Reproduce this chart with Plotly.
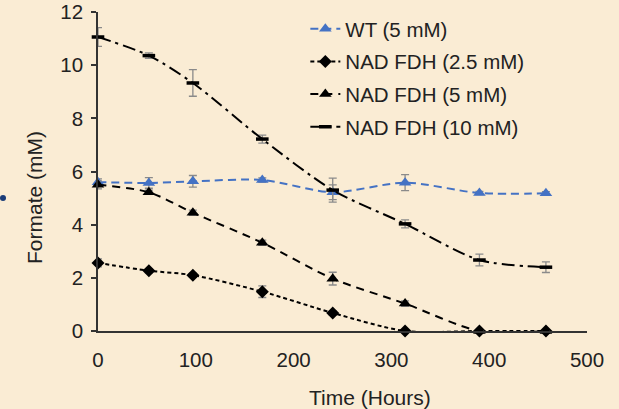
import plotly.graph_objects as go

# Sampling times (hours)
hours = [0, 52, 97, 168, 240, 314, 390, 458]

# Formate concentration (mM) and standard deviations
wt_5 = [5.60, 5.57, 5.63, 5.68, 5.22, 5.58, 5.19, 5.18]
wt_5_err = [0.12, 0.20, 0.22, 0.08, 0.28, 0.30, 0.06, 0.06]

fdh_2_5 = [2.56, 2.27, 2.10, 1.48, 0.68, 0.0, 0.0, 0.0]
fdh_2_5_err = [0.15, 0.08, 0.08, 0.22, 0.08, 0.0, 0.0, 0.0]

fdh_5 = [5.50, 5.22, 4.45, 3.32, 1.97, 1.03, 0.0, 0.0]
fdh_5_err = [0.15, 0.08, 0.10, 0.10, 0.24, 0.10, 0.0, 0.0]

fdh_10 = [11.06, 10.36, 9.33, 7.22, 5.30, 4.03, 2.67, 2.40]
fdh_10_err = [0.35, 0.10, 0.50, 0.15, 0.45, 0.15, 0.22, 0.20]

x_ticks = [0, 100, 200, 300, 400, 500]
y_ticks = [0, 2, 4, 6, 8, 10, 12]

FONT = "Liberation Sans, Arial, sans-serif"
TXT = "#222222"
BG = "#FAECD4"
ERR = dict(type="data", visible=True, color="#8a8a8a", thickness=1.3, width=4)

series = [
    ("WT (5 mM)", wt_5, wt_5_err, "#4472C4", "8px,5px",
     dict(symbol="triangle-up", size=11, color="#4472C4")),
    ("NAD FDH (2.5 mM)", fdh_2_5, fdh_2_5_err, "#000000", "4px,3px",
     dict(symbol="diamond", size=10, color="#000000")),
    ("NAD FDH (5 mM)", fdh_5, fdh_5_err, "#000000", "8px,6px",
     dict(symbol="triangle-up", size=11, color="#000000")),
    ("NAD FDH (10 mM)", fdh_10, fdh_10_err, "#000000", "13px,5px,3px,5px",
     dict(symbol="line-ew", size=9, color="#000000",
          line=dict(width=3.5, color="#000000"))),
]

fig = go.Figure()
for i, (name, y, err, color, dash, marker) in enumerate(series):
    fig.add_trace(go.Scatter(
        x=hours, y=y, name=name, mode="lines+markers",
        line=dict(color=color, width=2, dash=dash, shape="spline", smoothing=0.8),
        marker=marker,
        error_y=dict(array=err, **ERR),
        legendgroup=f"g{i}", cliponaxis=False,
    ))

fig.update_layout(
    width=619, height=409,
    margin=dict(l=98, r=32, t=12, b=78, autoexpand=False),
    paper_bgcolor=BG, plot_bgcolor=BG,
    font=dict(family=FONT, size=20.5, color=TXT),
    showlegend=True,
    legend=dict(x=0.424, y=0.978, xanchor="left", yanchor="top",
                yref="container",
                bgcolor="rgba(0,0,0,0)", font=dict(size=20.5, color=TXT),
                tracegroupgap=3, itemwidth=30),
    xaxis=dict(range=[0, 500], tickvals=x_ticks, showgrid=False, zeroline=False,
               showline=True, linecolor="#333333", linewidth=1.5,
               ticks="", ticklabelstandoff=10),
    yaxis=dict(range=[0, 12], tickvals=y_ticks, showgrid=False, zeroline=False,
               showline=True, linecolor="#333333", linewidth=1.5,
               ticks="outside", ticklen=5, tickcolor="#333333", tickwidth=1.5,
               ticklabelstandoff=4),
    annotations=[
        dict(text="Time (Hours)", xref="paper", yref="paper",
             x=(370 - 98) / 489, y=-(397 - 331) / 319,
             xanchor="center", yanchor="middle", showarrow=False,
             font=dict(size=21, color=TXT)),
        dict(text="Formate (mM)", xref="paper", yref="paper",
             x=-(98 - 35) / 489, y=(331 - 198) / 319, textangle=-90,
             xanchor="center", yanchor="middle", showarrow=False,
             font=dict(size=21, color=TXT)),
    ],
    shapes=[
        dict(type="circle", xref="paper", yref="paper",
             x0=(0 - 98) / 489, x1=(6 - 98) / 489,
             y0=(331 - 201) / 319, y1=(331 - 195) / 319,
             fillcolor="#1a3c78", line=dict(width=0)),
    ],
)

fig.write_html("out.html")
